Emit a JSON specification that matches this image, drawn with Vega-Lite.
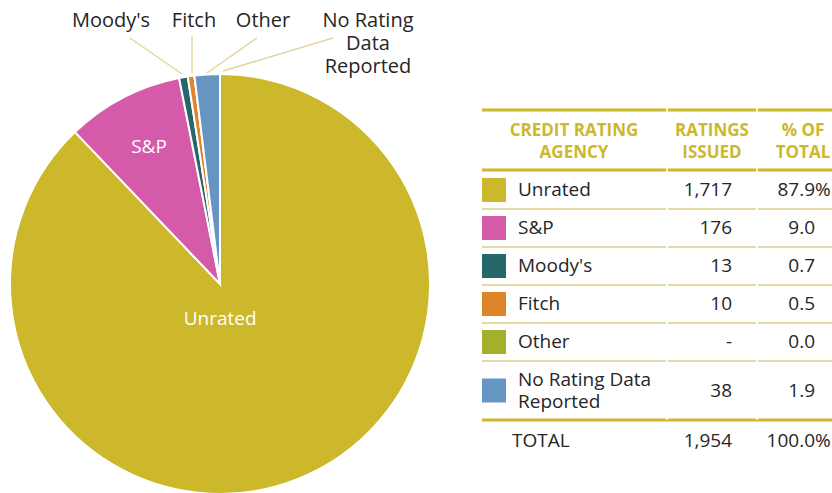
{
  "$schema": "https://vega.github.io/schema/vega-lite/v6.json",
  "autosize": {"type": "pad"},
  "padding": 0,
  "background": "white",
  "spacing": 0,
  "config": {
    "view": {"stroke": null},
    "axis": {"disable": true},
    "legend": {"disable": true},
    "font": "Open Sans",
    "text": {"font": "Open Sans", "color": "#262626", "fontSize": 19, "baseline": "middle"}
  },
  "datasets": {
    "ratings": [
      {"agency": "Unrated", "count": 1717, "pct": 87.9, "idx": 1},
      {"agency": "S&P", "count": 176, "pct": 9.0, "idx": 2},
      {"agency": "Moody's", "count": 13, "pct": 0.7, "idx": 3},
      {"agency": "Fitch", "count": 10, "pct": 0.5, "idx": 4},
      {"agency": "Other", "count": 0, "pct": 0.0, "idx": 5},
      {"agency": "No Rating Data Reported", "count": 38, "pct": 1.9, "idx": 6}
    ]
  },
  "hconcat": [
    {
      "spacing": 0,
      "bounds": "flush",
      "vconcat": [
        {
          "width": 440,
          "height": 73,
          "data": {"name": "ratings"},
          "layer": [
            {
              "transform": [{"filter": "datum.agency === \"Moody's\""}],
              "mark": {"type": "rule", "color": "#e2d69b", "strokeWidth": 1.5},
              "encoding": {
                "x": {"datum": 130, "type": "quantitative", "scale": {"domain": [0, 440], "nice": false, "zero": false}},
                "y": {"datum": 37, "type": "quantitative", "scale": {"domain": [73, 0], "nice": false, "zero": false}},
                "x2": {"datum": 182},
                "y2": {"datum": 73}
              }
            },
            {
              "transform": [{"filter": "datum.agency === 'Fitch'"}],
              "mark": {"type": "rule", "color": "#e2d69b", "strokeWidth": 1.5},
              "encoding": {
                "x": {"datum": 192, "type": "quantitative", "scale": {"domain": [0, 440], "nice": false, "zero": false}},
                "y": {"datum": 35, "type": "quantitative", "scale": {"domain": [73, 0], "nice": false, "zero": false}},
                "x2": {"datum": 192},
                "y2": {"datum": 72}
              }
            },
            {
              "transform": [{"filter": "datum.agency === 'Other'"}],
              "mark": {"type": "rule", "color": "#e2d69b", "strokeWidth": 1.5},
              "encoding": {
                "x": {"datum": 257, "type": "quantitative", "scale": {"domain": [0, 440], "nice": false, "zero": false}},
                "y": {"datum": 37, "type": "quantitative", "scale": {"domain": [73, 0], "nice": false, "zero": false}},
                "x2": {"datum": 207},
                "y2": {"datum": 72}
              }
            },
            {
              "transform": [{"filter": "datum.agency === 'No Rating Data Reported'"}],
              "mark": {"type": "rule", "color": "#e2d69b", "strokeWidth": 1.5},
              "encoding": {
                "x": {"datum": 333, "type": "quantitative", "scale": {"domain": [0, 440], "nice": false, "zero": false}},
                "y": {"datum": 37, "type": "quantitative", "scale": {"domain": [73, 0], "nice": false, "zero": false}},
                "x2": {"datum": 223},
                "y2": {"datum": 70}
              }
            },
            {
              "transform": [{"filter": "datum.agency === \"Moody's\""}],
              "mark": {"type": "text", "fontSize": 20, "align": "center"},
              "encoding": {
                "text": {"field": "agency"},
                "x": {"datum": 111, "type": "quantitative", "scale": {"domain": [0, 440], "nice": false, "zero": false}},
                "y": {"datum": 20, "type": "quantitative", "scale": {"domain": [73, 0], "nice": false, "zero": false}}
              }
            },
            {
              "transform": [{"filter": "datum.agency === 'Fitch'"}],
              "mark": {"type": "text", "fontSize": 20, "align": "center"},
              "encoding": {
                "text": {"field": "agency"},
                "x": {"datum": 194, "type": "quantitative", "scale": {"domain": [0, 440], "nice": false, "zero": false}},
                "y": {"datum": 20, "type": "quantitative", "scale": {"domain": [73, 0], "nice": false, "zero": false}}
              }
            },
            {
              "transform": [{"filter": "datum.agency === 'Other'"}],
              "mark": {"type": "text", "fontSize": 20, "align": "center"},
              "encoding": {
                "text": {"field": "agency"},
                "x": {"datum": 263, "type": "quantitative", "scale": {"domain": [0, 440], "nice": false, "zero": false}},
                "y": {"datum": 20, "type": "quantitative", "scale": {"domain": [73, 0], "nice": false, "zero": false}}
              }
            },
            {
              "transform": [{"filter": "datum.agency === 'No Rating Data Reported'"}],
              "mark": {"type": "text", "fontSize": 20, "align": "center", "lineHeight": 23},
              "encoding": {
                "text": {"value": ["No Rating", "Data", "Reported"]},
                "x": {"datum": 368, "type": "quantitative", "scale": {"domain": [0, 440], "nice": false, "zero": false}},
                "y": {"datum": 20, "type": "quantitative", "scale": {"domain": [73, 0], "nice": false, "zero": false}}
              }
            }
          ]
        },
        {
          "width": 440,
          "height": 420,
          "data": {"name": "ratings"},
          "layer": [
            {
              "mark": {"type": "arc", "radius": 210, "stroke": "white", "strokeWidth": 2},
              "encoding": {
                "theta": {"field": "count", "type": "quantitative", "stack": true},
                "order": {"field": "idx", "type": "quantitative"},
                "color": {
                  "field": "agency",
                  "type": "nominal",
                  "scale": {
                    "domain": ["Unrated", "S&P", "Moody's", "Fitch", "Other", "No Rating Data Reported"],
                    "range": ["#cdb82b", "#d55aa9", "#26686a", "#e0842c", "#a3b02c", "#6595c0"]
                  }
                }
              }
            },
            {
              "transform": [{"filter": "datum.count > 0"}],
              "mark": {"type": "text", "radius": 154, "color": "white", "fontSize": 19, "align": "center"},
              "encoding": {
                "theta": {"field": "count", "type": "quantitative", "stack": true},
                "order": {"field": "idx", "type": "quantitative"},
                "text": {"condition": {"test": "datum.agency === 'S&P'", "field": "agency"}, "value": ""}
              }
            },
            {
              "transform": [{"filter": "datum.count > 0"}],
              "mark": {"type": "text", "radius": 38, "dx": -14, "color": "white", "fontSize": 19, "align": "center"},
              "encoding": {
                "theta": {"field": "count", "type": "quantitative", "stack": true},
                "order": {"field": "idx", "type": "quantitative"},
                "text": {"condition": {"test": "datum.agency === 'Unrated'", "field": "agency"}, "value": ""}
              }
            }
          ]
        }
      ]
    },
    {
      "spacing": 0,
      "bounds": "flush",
      "vconcat": [
        {
          "width": 392,
          "height": 170,
          "data": {"name": "ratings"},
          "transform": [{"aggregate": [{"op": "count", "as": "n"}]}],
          "layer": [
            {
              "mark": {"type": "rule", "color": "#cdb82b", "strokeWidth": 3},
              "encoding": {
                "x": {"datum": 482, "type": "quantitative", "scale": {"domain": [440, 832], "nice": false, "zero": false}},
                "x2": {"datum": 832},
                "y": {"datum": 109, "type": "quantitative", "scale": {"domain": [170, 0], "nice": false, "zero": false}}
              }
            },
            {
              "mark": {"type": "rule", "color": "#cdb82b", "strokeWidth": 3},
              "encoding": {
                "x": {"datum": 482, "type": "quantitative", "scale": {"domain": [440, 832], "nice": false, "zero": false}},
                "x2": {"datum": 832},
                "y": {"datum": 169, "type": "quantitative", "scale": {"domain": [170, 0], "nice": false, "zero": false}}
              }
            },
            {
              "mark": {"type": "rule", "color": "white", "strokeWidth": 1.5},
              "encoding": {
                "x": {"datum": 667, "type": "quantitative", "scale": {"domain": [440, 832], "nice": false, "zero": false}}
              }
            },
            {
              "mark": {"type": "rule", "color": "white", "strokeWidth": 1.5},
              "encoding": {
                "x": {"datum": 757, "type": "quantitative", "scale": {"domain": [440, 832], "nice": false, "zero": false}}
              }
            },
            {
              "mark": {"type": "text", "fontSize": 17, "fontWeight": "bold", "color": "#cdb82b", "align": "center", "lineHeight": 22},
              "encoding": {
                "text": {"value": ["CREDIT RATING", "AGENCY"]},
                "x": {"datum": 574, "type": "quantitative", "scale": {"domain": [440, 832], "nice": false, "zero": false}},
                "y": {"datum": 129.5, "type": "quantitative", "scale": {"domain": [170, 0], "nice": false, "zero": false}}
              }
            },
            {
              "mark": {"type": "text", "fontSize": 17, "fontWeight": "bold", "color": "#cdb82b", "align": "center", "lineHeight": 22},
              "encoding": {
                "text": {"value": ["RATINGS", "ISSUED"]},
                "x": {"datum": 712, "type": "quantitative", "scale": {"domain": [440, 832], "nice": false, "zero": false}},
                "y": {"datum": 129.5, "type": "quantitative", "scale": {"domain": [170, 0], "nice": false, "zero": false}}
              }
            },
            {
              "mark": {"type": "text", "fontSize": 17, "fontWeight": "bold", "color": "#cdb82b", "align": "center", "lineHeight": 22},
              "encoding": {
                "text": {"value": ["% OF", "TOTAL"]},
                "x": {"datum": 803, "type": "quantitative", "scale": {"domain": [440, 832], "nice": false, "zero": false}},
                "y": {"datum": 129.5, "type": "quantitative", "scale": {"domain": [170, 0], "nice": false, "zero": false}}
              }
            }
          ]
        },
        {
          "width": 392,
          "height": 190,
          "data": {"name": "ratings"},
          "transform": [{"filter": "datum.idx <= 5"}],
          "layer": [
            {
              "mark": {"type": "rule", "color": "#e6dca8", "strokeWidth": 2},
              "encoding": {
                "x": {"datum": 482, "type": "quantitative", "scale": {"domain": [440, 832], "nice": false, "zero": false}},
                "x2": {"datum": 832},
                "y": {"field": "agency", "type": "nominal", "bandPosition": 1, "scale": {"type": "band", "domain": ["Unrated", "S&P", "Moody's", "Fitch", "Other"], "paddingInner": 0, "paddingOuter": 0}}
              }
            },
            {
              "mark": {"type": "rule", "color": "white", "strokeWidth": 1.5},
              "encoding": {
                "x": {"datum": 667, "type": "quantitative", "scale": {"domain": [440, 832], "nice": false, "zero": false}}
              }
            },
            {
              "mark": {"type": "rule", "color": "white", "strokeWidth": 1.5},
              "encoding": {
                "x": {"datum": 757, "type": "quantitative", "scale": {"domain": [440, 832], "nice": false, "zero": false}}
              }
            },
            {
              "mark": {"type": "square", "size": 576, "opacity": 1, "strokeWidth": 0},
              "encoding": {
                "x": {"datum": 494, "type": "quantitative", "scale": {"domain": [440, 832], "nice": false, "zero": false}},
                "y": {"field": "agency", "type": "nominal", "scale": {"type": "band", "domain": ["Unrated", "S&P", "Moody's", "Fitch", "Other"], "paddingInner": 0, "paddingOuter": 0}},
                "color": {
                  "field": "agency",
                  "type": "nominal",
                  "scale": {
                    "domain": ["Unrated", "S&P", "Moody's", "Fitch", "Other", "No Rating Data Reported"],
                    "range": ["#cdb82b", "#d55aa9", "#26686a", "#e0842c", "#a3b02c", "#6595c0"]
                  }
                }
              }
            },
            {
              "mark": {"type": "text", "align": "left"},
              "encoding": {
                "text": {"field": "agency"},
                "x": {"datum": 518, "type": "quantitative", "scale": {"domain": [440, 832], "nice": false, "zero": false}},
                "y": {"field": "agency", "type": "nominal", "scale": {"type": "band", "domain": ["Unrated", "S&P", "Moody's", "Fitch", "Other"], "paddingInner": 0, "paddingOuter": 0}}
              }
            },
            {
              "mark": {"type": "text", "align": "right"},
              "encoding": {
                "text": {"condition": {"test": "datum.count === 0", "value": "-"}, "field": "count", "type": "quantitative", "format": ","},
                "x": {"datum": 732, "type": "quantitative", "scale": {"domain": [440, 832], "nice": false, "zero": false}},
                "y": {"field": "agency", "type": "nominal", "scale": {"type": "band", "domain": ["Unrated", "S&P", "Moody's", "Fitch", "Other"], "paddingInner": 0, "paddingOuter": 0}}
              }
            },
            {
              "mark": {"type": "text", "align": "right"},
              "encoding": {
                "text": {"field": "pct", "type": "quantitative", "format": ".1f"},
                "x": {"datum": 815, "type": "quantitative", "scale": {"domain": [440, 832], "nice": false, "zero": false}},
                "y": {"field": "agency", "type": "nominal", "scale": {"type": "band", "domain": ["Unrated", "S&P", "Moody's", "Fitch", "Other"], "paddingInner": 0, "paddingOuter": 0}}
              }
            },
            {
              "transform": [{"filter": "datum.agency === 'Unrated'"}],
              "mark": {"type": "text", "align": "left"},
              "encoding": {
                "text": {"value": "%"},
                "x": {"datum": 815, "type": "quantitative", "scale": {"domain": [440, 832], "nice": false, "zero": false}},
                "y": {"field": "agency", "type": "nominal", "scale": {"type": "band", "domain": ["Unrated", "S&P", "Moody's", "Fitch", "Other"], "paddingInner": 0, "paddingOuter": 0}}
              }
            }
          ]
        },
        {
          "width": 392,
          "height": 59,
          "data": {"name": "ratings"},
          "transform": [{"filter": "datum.idx === 6"}],
          "layer": [
            {
              "mark": {"type": "rule", "color": "#cdb82b", "strokeWidth": 3},
              "encoding": {
                "x": {"datum": 482, "type": "quantitative", "scale": {"domain": [440, 832], "nice": false, "zero": false}},
                "x2": {"datum": 832},
                "y": {"field": "agency", "type": "nominal", "bandPosition": 1, "scale": {"type": "band", "paddingInner": 0, "paddingOuter": 0}}
              }
            },
            {
              "mark": {"type": "rule", "color": "white", "strokeWidth": 1.5},
              "encoding": {
                "x": {"datum": 667, "type": "quantitative", "scale": {"domain": [440, 832], "nice": false, "zero": false}}
              }
            },
            {
              "mark": {"type": "rule", "color": "white", "strokeWidth": 1.5},
              "encoding": {
                "x": {"datum": 757, "type": "quantitative", "scale": {"domain": [440, 832], "nice": false, "zero": false}}
              }
            },
            {
              "mark": {"type": "square", "size": 576, "opacity": 1, "strokeWidth": 0},
              "encoding": {
                "x": {"datum": 494, "type": "quantitative", "scale": {"domain": [440, 832], "nice": false, "zero": false}},
                "y": {"field": "agency", "type": "nominal", "scale": {"type": "band", "paddingInner": 0, "paddingOuter": 0}},
                "color": {
                  "field": "agency",
                  "type": "nominal",
                  "scale": {
                    "domain": ["Unrated", "S&P", "Moody's", "Fitch", "Other", "No Rating Data Reported"],
                    "range": ["#cdb82b", "#d55aa9", "#26686a", "#e0842c", "#a3b02c", "#6595c0"]
                  }
                }
              }
            },
            {
              "mark": {"type": "text", "align": "left", "lineHeight": 22, "dy": -11},
              "encoding": {
                "text": {"value": ["No Rating Data", "Reported"]},
                "x": {"datum": 518, "type": "quantitative", "scale": {"domain": [440, 832], "nice": false, "zero": false}},
                "y": {"field": "agency", "type": "nominal", "scale": {"type": "band", "paddingInner": 0, "paddingOuter": 0}}
              }
            },
            {
              "mark": {"type": "text", "align": "right"},
              "encoding": {
                "text": {"field": "count", "type": "quantitative", "format": ","},
                "x": {"datum": 732, "type": "quantitative", "scale": {"domain": [440, 832], "nice": false, "zero": false}},
                "y": {"field": "agency", "type": "nominal", "scale": {"type": "band", "paddingInner": 0, "paddingOuter": 0}}
              }
            },
            {
              "mark": {"type": "text", "align": "right"},
              "encoding": {
                "text": {"field": "pct", "type": "quantitative", "format": ".1f"},
                "x": {"datum": 815, "type": "quantitative", "scale": {"domain": [440, 832], "nice": false, "zero": false}},
                "y": {"field": "agency", "type": "nominal", "scale": {"type": "band", "paddingInner": 0, "paddingOuter": 0}}
              }
            }
          ]
        },
        {
          "width": 392,
          "height": 42,
          "data": {"name": "ratings"},
          "transform": [{"aggregate": [{"op": "sum", "field": "count", "as": "total"}, {"op": "sum", "field": "pct", "as": "totalPct"}]}],
          "layer": [
            {
              "mark": {"type": "text", "align": "left"},
              "encoding": {
                "text": {"value": "TOTAL"},
                "x": {"datum": 512, "type": "quantitative", "scale": {"domain": [440, 832], "nice": false, "zero": false}}
              }
            },
            {
              "mark": {"type": "text", "align": "right"},
              "encoding": {
                "text": {"field": "total", "type": "quantitative", "format": ","},
                "x": {"datum": 732, "type": "quantitative", "scale": {"domain": [440, 832], "nice": false, "zero": false}}
              }
            },
            {
              "mark": {"type": "text", "align": "right"},
              "encoding": {
                "text": {"field": "totalPct", "type": "quantitative", "format": ".1f"},
                "x": {"datum": 815, "type": "quantitative", "scale": {"domain": [440, 832], "nice": false, "zero": false}}
              }
            },
            {
              "mark": {"type": "text", "align": "left"},
              "encoding": {
                "text": {"value": "%"},
                "x": {"datum": 815, "type": "quantitative", "scale": {"domain": [440, 832], "nice": false, "zero": false}}
              }
            }
          ]
        }
      ]
    }
  ]
}
